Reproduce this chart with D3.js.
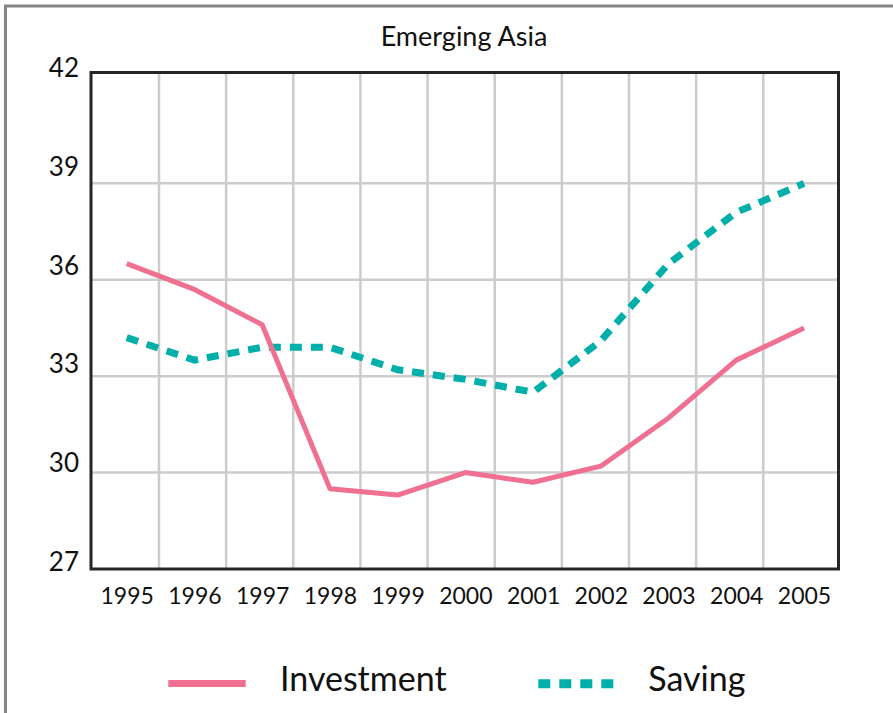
<!DOCTYPE html>
<html>
<head>
<meta charset="utf-8">
<script src="https://cdn.jsdelivr.net/npm/d3@7"></script>
<style>
  body { margin: 0; background: #fff; }
  svg text { font-family: Lato, "Open Sans", sans-serif; fill: #111; }
</style>
</head>
<body>
<svg width="893" height="713"></svg>
<script>
const years = [1995, 1996, 1997, 1998, 1999, 2000, 2001, 2002, 2003, 2004, 2005];
const investment = [36.5, 35.7, 34.6, 29.5, 29.3, 30.0, 29.7, 30.2, 31.7, 33.5, 34.5];
const saving = [34.2, 33.5, 33.9, 33.9, 33.2, 32.9, 32.5, 34.1, 36.5, 38.1, 39.0];
const yTicks = [27, 30, 33, 36, 39, 42];
const gridYears = [1995.5, 1996.5, 1997.5, 1998.5, 1999.5, 2000.5, 2001.5, 2002.5, 2003.5, 2004.5];
const title = "Emerging Asia";

const svg = d3.select("svg");
const plotLeft = 91, plotRight = 838.5, plotTop = 72.5, plotBottom = 569;

// outer grey frame, open to the right and bottom of the picture
svg.append("rect")
  .attr("x", 5.5).attr("y", 6)
  .attr("width", 900).attr("height", 720)
  .attr("fill", "none")
  .attr("stroke", "#858585")
  .attr("stroke-width", 3);

const x = d3.scalePoint().domain(years).range([126.7, 804]);
const xGrid = d3.scaleLinear().domain([1995.5, 2004.5]).range([159, 763.3]);
const y = d3.scaleLinear().domain([27, 42.45]).range([plotBottom, plotTop]);
// tick labels sit a little off the grid in the original
const yLabel = d3.scaleLinear().domain([27, 42]).range([561, 67.5]);

// grid
svg.append("g").selectAll("line")
  .data(gridYears)
  .enter().append("line")
  .attr("x1", d => xGrid(d)).attr("x2", d => xGrid(d))
  .attr("y1", plotTop).attr("y2", plotBottom)
  .attr("stroke", "#cccccc")
  .attr("stroke-width", 2.5);

svg.append("g").selectAll("line")
  .data(yTicks.filter(d => d > 27 && d < 42))
  .enter().append("line")
  .attr("x1", plotLeft).attr("x2", plotRight)
  .attr("y1", d => y(d)).attr("y2", d => y(d))
  .attr("stroke", "#cccccc")
  .attr("stroke-width", 2.5);

// plot frame
svg.append("rect")
  .attr("x", plotLeft).attr("y", plotTop)
  .attr("width", plotRight - plotLeft).attr("height", plotBottom - plotTop)
  .attr("fill", "none")
  .attr("stroke", "#262626")
  .attr("stroke-width", 3);

// axes
const yAxis = svg.append("g")
  .attr("transform", "translate(79, 0)")
  .call(d3.axisLeft(yLabel).tickValues(yTicks).tickSize(0).tickPadding(0));
yAxis.select(".domain").remove();
yAxis.selectAll("text")
  .attr("dy", "0.36em")
  .style("font-size", "26px")
  .style("font-family", "Lato, sans-serif")
  .attr("fill", "#111");

const xAxis = svg.append("g")
  .attr("transform", `translate(0, ${plotBottom})`)
  .call(d3.axisBottom(x).tickSize(0).tickPadding(0));
xAxis.select(".domain").remove();
xAxis.selectAll("text")
  .attr("y", 35)
  .attr("dy", 0)
  .style("font-size", "23px")
  .style("font-family", "Lato, sans-serif")
  .attr("fill", "#111");

// lines
const line = d3.line().x((d, i) => x(years[i])).y(d => y(d));

svg.append("path")
  .datum(saving)
  .attr("d", line)
  .attr("fill", "none")
  .attr("stroke", "#00afaa")
  .attr("stroke-width", 7)
  .attr("stroke-dasharray", "12 9");

svg.append("path")
  .datum(investment)
  .attr("d", line)
  .attr("fill", "none")
  .attr("stroke", "#ef7090")
  .attr("stroke-width", 5)
  .attr("stroke-linejoin", "round");

// title
svg.append("text")
  .attr("x", 464).attr("y", 46)
  .attr("text-anchor", "middle")
  .style("font-size", "27px")
  .text(title);

// legend
svg.append("line")
  .attr("x1", 168.3).attr("x2", 245.7)
  .attr("y1", 683.5).attr("y2", 683.5)
  .attr("stroke", "#ef7090")
  .attr("stroke-width", 7);
svg.append("text")
  .attr("x", 280).attr("y", 690.7)
  .style("font-size", "34px")
  .text("Investment");

svg.append("line")
  .attr("x1", 538.3).attr("x2", 613.3)
  .attr("y1", 683.8).attr("y2", 683.8)
  .attr("stroke", "#00afaa")
  .attr("stroke-width", 9)
  .attr("stroke-dasharray", "12 9");
svg.append("text")
  .attr("x", 648.3).attr("y", 690.7)
  .style("font-size", "34px")
  .text("Saving");
</script>
</body>
</html>
